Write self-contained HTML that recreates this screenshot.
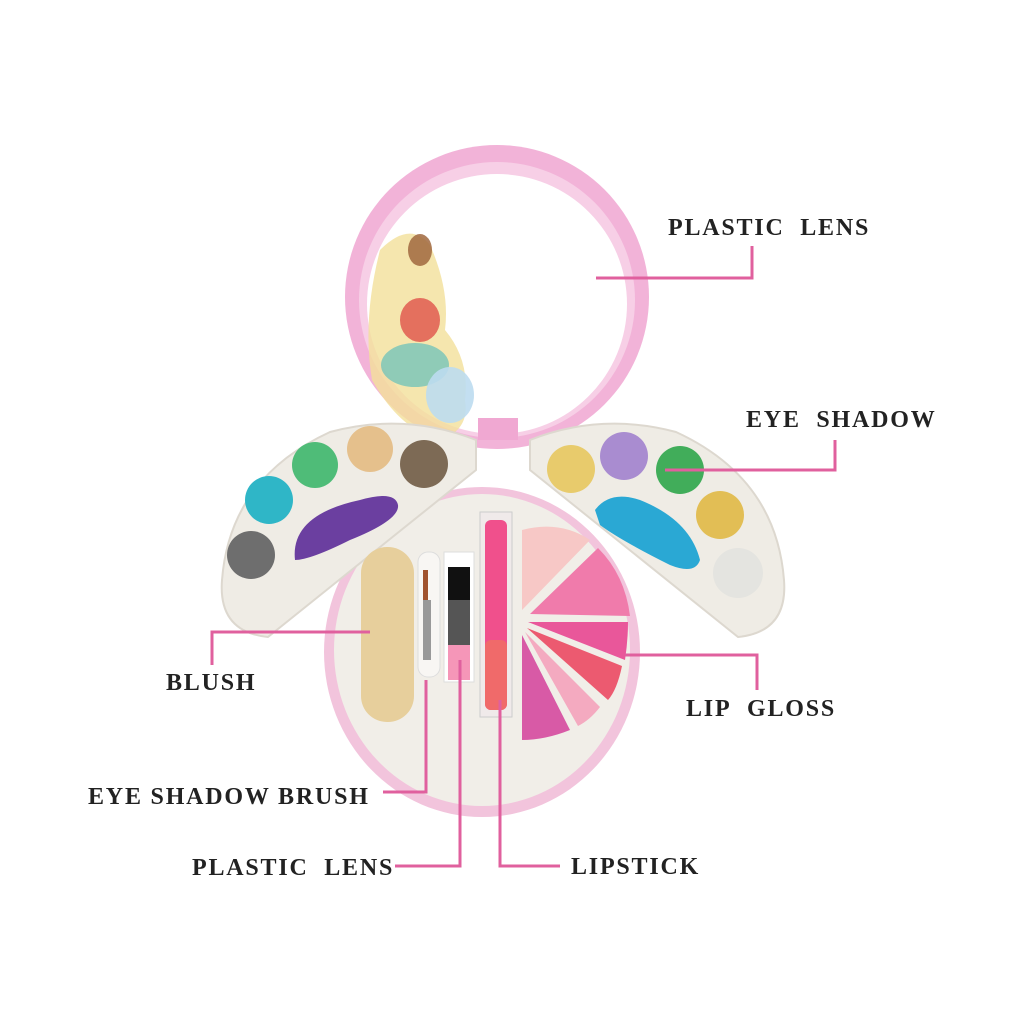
<!DOCTYPE html>
<html><head><style>
html,body{margin:0;padding:0;background:#fff;width:1024px;height:1024px;overflow:hidden}
text{font-family:"Liberation Serif",serif;font-weight:bold;fill:#222;font-size:24px;letter-spacing:1.8px;white-space:pre}
</style></head><body>
<svg width="1024" height="1024" viewBox="0 0 1024 1024" xmlns="http://www.w3.org/2000/svg">
<rect width="1024" height="1024" fill="#fff"/>
<!-- body -->
<ellipse cx="482" cy="652" rx="158" ry="165" fill="#f2c4dc"/>
<ellipse cx="482" cy="650" rx="148" ry="156" fill="#f1eee8"/>
<!-- mirror -->
<circle cx="497" cy="297" r="152" fill="#f2b3d8"/>
<circle cx="497" cy="300" r="138" fill="#f7cfe6"/>
<circle cx="497" cy="304" r="130" fill="#fff"/>
<!-- princesses -->
<path d="M380 250 Q410 220 430 245 Q450 290 445 330 Q470 360 465 400 Q470 430 440 440 Q400 430 372 380 Q362 320 380 250Z" fill="#f3e09a" opacity="0.8"/>
<ellipse cx="420" cy="320" rx="20" ry="22" fill="#e05a50" opacity="0.85"/>
<ellipse cx="415" cy="365" rx="34" ry="22" fill="#7cc6b8" opacity="0.85"/>
<ellipse cx="450" cy="395" rx="24" ry="28" fill="#bcdcef" opacity="0.9"/>
<ellipse cx="420" cy="250" rx="12" ry="16" fill="#a0673e" opacity="0.85"/>
<!-- hinge -->
<rect x="478" y="418" width="40" height="22" fill="#f0a8d2"/>
<!-- left wing -->
<path d="M476 440 L476 470 L268 637 Q218 632 222 580 Q230 478 330 432 Q405 412 476 440Z" fill="#efece5" stroke="#ddd8cf" stroke-width="2"/>
<!-- right wing -->
<path d="M530 440 L530 470 L738 637 Q788 632 784 580 Q776 478 676 432 Q601 412 530 440Z" fill="#efece5" stroke="#ddd8cf" stroke-width="2"/>
<!-- left shadows -->
<circle cx="315" cy="465" r="23" fill="#4fbc78"/>
<circle cx="370" cy="449" r="23" fill="#e5c08c"/>
<circle cx="424" cy="464" r="24" fill="#7d6a55"/>
<circle cx="269" cy="500" r="24" fill="#2fb6c7"/>
<circle cx="251" cy="555" r="24" fill="#6e6e6e"/>
<path d="M295 560 Q290 515 360 500 Q395 490 398 505 Q400 520 350 540 Q310 560 295 560Z" fill="#6b3fa0"/>
<!-- right shadows -->
<circle cx="571" cy="469" r="24" fill="#e8cb6c"/>
<circle cx="624" cy="456" r="24" fill="#a98cd0"/>
<circle cx="680" cy="470" r="24" fill="#41ad5a"/>
<circle cx="720" cy="515" r="24" fill="#e2be55"/>
<circle cx="738" cy="573" r="25" fill="#e4e4e0"/>
<path d="M595 510 Q610 490 640 500 Q690 520 700 560 Q695 575 670 565 Q620 540 600 525Z" fill="#2aa8d4"/>
<!-- blush -->
<rect x="361" y="547" width="53" height="175" rx="26" fill="#e7cf9c"/>
<!-- brush slots -->
<rect x="418" y="552" width="22" height="125" rx="10" fill="#f8f6f3" stroke="#ddd" />
<rect x="423" y="570" width="5" height="30" fill="#a0522d"/>
<rect x="423" y="600" width="8" height="60" fill="#999"/>
<rect x="444" y="552" width="30" height="130" fill="#fff" stroke="#ddd"/>
<rect x="448" y="567" width="22" height="33" fill="#111"/>
<rect x="448" y="600" width="22" height="45" fill="#555"/>
<rect x="448" y="645" width="22" height="35" fill="#f596b8"/>
<!-- lipstick -->
<rect x="480" y="512" width="32" height="205" fill="#f0eaea" stroke="#ccc"/>
<rect x="485" y="520" width="22" height="190" rx="6" fill="#f0508c"/>
<rect x="485" y="640" width="22" height="70" rx="6" fill="#f06a6a"/>
<!-- pie -->
<path d="M522 530 L522 610 L590 540 Q560 520 522 530Z" fill="#f7c8c6"/>
<path d="M530 614 L598 548 Q625 575 630 616 Z" fill="#f07bab"/>
<path d="M528 622 L628 622 Q628 640 625 660 Z" fill="#e9579a"/>
<path d="M527 628 L622 666 Q617 690 608 700 Z" fill="#ec5a70"/>
<path d="M525 632 L600 707 Q590 720 578 726 Z" fill="#f4aac0"/>
<path d="M522 635 L570 730 Q545 740 522 740 Z" fill="#d85aa6"/>
<!-- connectors -->
<g stroke="#e0609e" stroke-width="3" fill="none">
<polyline points="596,278 752,278 752,246"/>
<polyline points="665,470 835,470 835,440"/>
<polyline points="625,655 757,655 757,690"/>
<polyline points="500,700 500,866 560,866"/>
<polyline points="460,660 460,866 395,866"/>
<polyline points="426,680 426,792 383,792"/>
<polyline points="370,632 212,632 212,665"/>
</g>
<text x="668" y="235">PLASTIC&#160;&#160;LENS</text>
<text x="746" y="427">EYE&#160;&#160;SHADOW</text>
<text x="686" y="716">LIP&#160;&#160;GLOSS</text>
<text x="166" y="690" letter-spacing="2.5">BLUSH</text>
<text x="88" y="804" letter-spacing="2.2">EYE SHADOW BRUSH</text>
<text x="192" y="875">PLASTIC&#160;&#160;LENS</text>
<text x="571" y="874" letter-spacing="2.5">LIPSTICK</text>
</svg>
</body></html>
